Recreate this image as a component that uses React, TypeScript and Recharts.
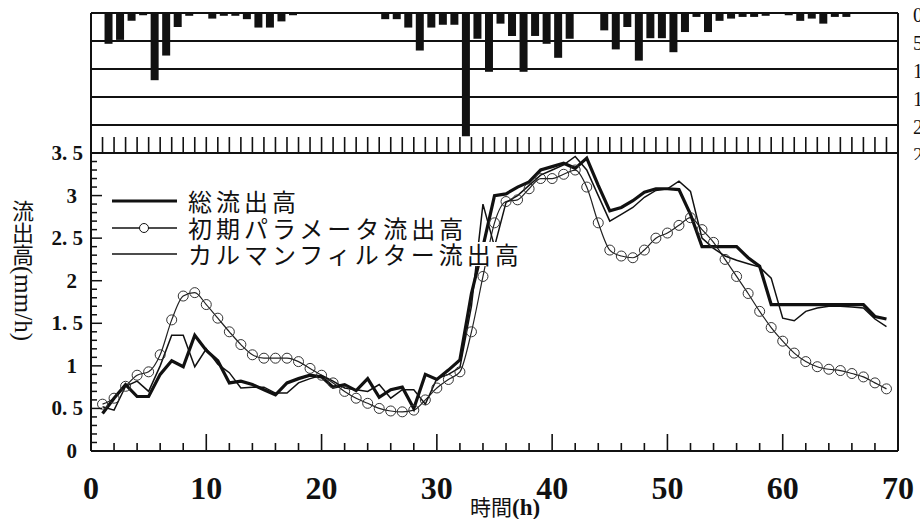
import {
  Bar,
  BarChart,
  CartesianGrid,
  Label,
  Legend,
  Line,
  LineChart,
  ReferenceLine,
  XAxis,
  YAxis,
} from "recharts";

// hourly rainfall (mm), interval h..h+1 for h = 0..69
const rainfall = [
  0, 5.5, 4.8, 1.4, 0.4, 12.0, 7.6, 2.5, 0.5, 0, 1.0, 0.5, 0.5, 1.1, 2.6, 2.6,
  1.5, 0.4, 0, 0, 0, 0, 0, 0, 0, 1.1, 1.1, 2.6, 6.7, 2.6, 2.1, 2.1, 22.0, 4.6,
  10.5, 1.9, 4.1, 10.5, 4.1, 5.5, 8.0, 4.6, 0, 0, 3.1, 6.5, 2.5, 8.5, 4.5, 4.5,
  7.0, 3.4, 0.7, 3.4, 1.4, 1.0, 0.7, 0.7, 0.5, 0, 0.4, 1.4, 1.0, 1.9, 0.7, 0.7,
  0, 0, 0, 0,
];

// runoff (mm/h) at hours 1..69
const totalRunoff = [
  0.44, 0.62, 0.78, 0.64, 0.64, 0.9, 1.06, 0.99, 1.36, 1.18, 1.06, 0.8, 0.82,
  0.78, 0.72, 0.66, 0.8, 0.85, 0.89, 0.87, 0.75, 0.78, 0.71, 0.85, 0.63, 0.72,
  0.75, 0.5, 0.9, 0.84, 0.95, 1.07, 1.85, 2.4, 3.0, 3.02, 3.1, 3.16, 3.3, 3.34,
  3.38, 3.32, 3.44, 3.12, 2.82, 2.86, 2.94, 3.04, 3.08, 3.08, 3.07, 2.78, 2.4,
  2.4, 2.4, 2.4, 2.27, 2.17, 1.72, 1.72, 1.72, 1.72, 1.72, 1.72, 1.72, 1.72,
  1.72, 1.58, 1.55,
];

const initialRunoff = [
  0.55, 0.62, 0.76, 0.89, 0.93, 1.13, 1.54, 1.82, 1.86, 1.72, 1.56, 1.4, 1.25,
  1.13, 1.09, 1.09, 1.09, 1.05, 0.97, 0.89, 0.8, 0.7, 0.62, 0.56, 0.5, 0.47,
  0.46, 0.48, 0.6, 0.74, 0.84, 0.93, 1.4, 2.05, 2.68, 2.93, 2.95, 3.08, 3.2,
  3.2, 3.25, 3.3, 3.1, 2.68, 2.36, 2.29, 2.27, 2.36, 2.5, 2.56, 2.65, 2.74,
  2.6, 2.45, 2.25, 2.05, 1.85, 1.64, 1.45, 1.29, 1.15, 1.05, 0.99, 0.96, 0.945,
  0.91, 0.87, 0.8, 0.73,
];

const kalmanRunoff = [
  0.52, 0.48, 0.76, 0.82, 0.7, 1.0, 1.36, 1.36, 0.99, 1.2, 1.02, 0.92, 0.74,
  0.75, 0.75, 0.68, 0.68, 0.8, 0.85, 0.89, 0.82, 0.74, 0.72, 0.7, 0.78, 0.62,
  0.72, 0.72, 0.55, 0.85, 0.9, 0.98, 1.7, 2.9, 2.4, 2.92, 3.0, 3.12, 3.24, 3.3,
  3.36, 3.46, 3.3, 3.0, 2.7, 2.78, 2.86, 2.98, 3.06, 3.08, 3.17, 3.05, 2.5,
  2.38, 2.29, 2.24, 2.2, 2.16, 2.03, 1.56, 1.53, 1.64, 1.68, 1.7, 1.7, 1.69,
  1.68, 1.55, 1.46,
];

const rainTicks = [0, 5, 10, 15, 20, 25];
const hourTicks = totalRunoff.map((_, i) => i + 1);
const timeTicks = Array.from({ length: 36 }, (_, i) => i * 2);
const flowTicks = Array.from({ length: 36 }, (_, i) => i / 10);

const rainData = rainfall.map((rain, i) => ({ t: i + 0.5, rain }));
const flowData = totalRunoff.map((total, i) => ({
  t: i + 1,
  total,
  initial: initialRunoff[i],
  kalman: kalmanRunoff[i],
}));

const INK = "#111";
const SERIF = "'Liberation Serif', 'DejaVu Serif', serif";
const JP = "'Noto Sans CJK JP', sans-serif";

function HourTick({ x, y }: any) {
  return <line x1={x} x2={x} y1={y} y2={y - 16} stroke={INK} strokeWidth={1.6} />;
}

function RainTick({ x, y, payload }: any) {
  return (
    <text
      x={x + 15}
      y={y + 2}
      dominantBaseline="central"
      fontFamily={SERIF}
      fontSize={20}
      fill={INK}
    >
      {payload.value}
    </text>
  );
}

function TimeTick({ x, y, payload }: any) {
  const major = payload.value % 10 === 0;
  return (
    <g>
      <line x1={x} x2={x} y1={y} y2={y - (major ? 17 : 8)} stroke={INK} strokeWidth={1.6} />
      {major && (
        <text
          x={x}
          y={y + 48}
          textAnchor="middle"
          fontFamily={SERIF}
          fontWeight="bold"
          fontSize={32}
          fill={INK}
        >
          {payload.value}
        </text>
      )}
    </g>
  );
}

function FlowTick({ x, y, payload }: any) {
  const v = payload.value;
  const major = Math.abs(v * 2 - Math.round(v * 2)) < 1e-6;
  const isInt = Math.abs(v - Math.round(v)) < 1e-6;
  const label = isInt ? String(Math.round(v)) : v.toFixed(1).replace(".", ". ");
  return (
    <g>
      <line x1={x} x2={x + (major ? 11 : 6)} y1={y} y2={y} stroke={INK} strokeWidth={1.5} />
      {major && (
        <text
          x={x - (isInt ? 14 : 8)}
          y={y}
          textAnchor="end"
          dominantBaseline="central"
          fontFamily={SERIF}
          fontWeight="bold"
          fontSize={21}
          fill={INK}
        >
          {label}
        </text>
      )}
    </g>
  );
}

function TimeTitle({ viewBox }: any) {
  const { x, y } = viewBox;
  return (
    <text x={x + 379} y={y + 64} fill={INK}>
      <tspan fontFamily={JP} fontSize={21}>時間</tspan>
      <tspan fontFamily={SERIF} fontWeight="bold" fontSize={23}>(h)</tspan>
    </text>
  );
}

function FlowTitle({ viewBox }: any) {
  const { y } = viewBox;
  return (
    <text
      x={23}
      y={y + 47}
      fill={INK}
      style={{ writingMode: "vertical-rl", textOrientation: "mixed" }}
    >
      <tspan fontFamily={JP} fontSize={22}>流出高</tspan>
      <tspan fontFamily={SERIF} fontSize={25}>(mm/h)</tspan>
    </text>
  );
}

const legendRows = [
  { key: "total", name: "総流出高" },
  { key: "initial", name: "初期パラメータ流出高" },
  { key: "kalman", name: "カルマンフィルター流出高" },
];

function FlowLegend() {
  return (
    <div>
      {legendRows.map((row) => (
        <div key={row.key} style={{ display: "flex", alignItems: "center", height: 26.5 }}>
          <svg width={72} height={26}>
            <line
              x1={4}
              x2={69}
              y1={13}
              y2={13}
              stroke={INK}
              strokeWidth={row.key === "total" ? 3.2 : 1.3}
            />
            {row.key === "initial" && (
              <circle cx={36} cy={13} r={4.5} fill="white" stroke={INK} strokeWidth={1} />
            )}
          </svg>
          <span
            style={{
              marginLeft: 8,
              background: "white",
              fontFamily: JP,
              fontSize: 24,
              letterSpacing: 4,
              lineHeight: "24px",
              color: INK,
              whiteSpace: "nowrap",
            }}
          >
            {row.name}
          </span>
        </div>
      ))}
    </div>
  );
}

export default function App() {
  return (
    <div
      style={{
        position: "absolute",
        left: 0,
        top: 0,
        width: 920,
        height: 519,
        background: "white",
        overflow: "hidden",
      }}
    >
      <div style={{ position: "absolute", left: 0, top: 0 }}>
        <BarChart
          width={920}
          height={160}
          data={rainData}
          margin={{ top: 13, right: 21, bottom: 6, left: 91 }}
        >
          <CartesianGrid vertical={false} stroke={INK} strokeWidth={1.8} />
          <XAxis
            dataKey="t"
            type="number"
            domain={[0, 70]}
            ticks={hourTicks}
            interval={0}
            height={1}
            tickSize={0}
            tickMargin={0}
            tick={<HourTick />}
            axisLine={{ stroke: INK, strokeWidth: 2 }}
          />
          <YAxis
            orientation="right"
            reversed
            domain={[0, 25]}
            ticks={rainTicks}
            interval={0}
            width={1}
            tickSize={0}
            tickMargin={0}
            tick={<RainTick />}
            axisLine={false}
          />
          <ReferenceLine x={0} stroke={INK} strokeWidth={2} />
          <ReferenceLine x={70} stroke={INK} strokeWidth={2} />
          <Bar dataKey="rain" barSize={8} fill={INK} isAnimationActive={false} />
        </BarChart>
      </div>
      <div style={{ position: "absolute", left: 0, top: 0 }}>
        <LineChart
          width={920}
          height={519}
          data={flowData}
          margin={{ top: 153, right: 22, bottom: 67, left: 90 }}
        >
          <XAxis
            dataKey="t"
            type="number"
            domain={[0, 70]}
            ticks={timeTicks}
            interval={0}
            height={1}
            tickSize={0}
            tickMargin={0}
            tick={<TimeTick />}
            axisLine={{ stroke: INK, strokeWidth: 2 }}
          >
            <Label content={<TimeTitle />} />
          </XAxis>
          <YAxis
            domain={[0, 3.5]}
            ticks={flowTicks}
            interval={0}
            width={1}
            tickSize={0}
            tickMargin={0}
            tick={<FlowTick />}
            axisLine={{ stroke: INK, strokeWidth: 2 }}
          >
            <Label content={<FlowTitle />} />
          </YAxis>
          <ReferenceLine y={3.5} stroke={INK} strokeWidth={2} />
          <ReferenceLine x={70} stroke={INK} strokeWidth={2} />
          <Legend
            layout="vertical"
            align="center"
            verticalAlign="middle"
            content={<FlowLegend />}
            wrapperStyle={{ position: "absolute", left: 108, top: 188, width: "auto" }}
          />
          <Line
            dataKey="initial"
            name="初期パラメータ流出高"
            type="monotone"
            stroke="#222"
            strokeWidth={1.2}
            dot={{ r: 5, fill: "none", stroke: "#333", strokeWidth: 1 }}
            isAnimationActive={false}
          />
          <Line
            dataKey="kalman"
            name="カルマンフィルター流出高"
            type="linear"
            stroke={INK}
            strokeWidth={1.5}
            dot={false}
            isAnimationActive={false}
          />
          <Line
            dataKey="total"
            name="総流出高"
            type="linear"
            stroke={INK}
            strokeWidth={3.2}
            dot={false}
            isAnimationActive={false}
          />
        </LineChart>
      </div>
    </div>
  );
}
